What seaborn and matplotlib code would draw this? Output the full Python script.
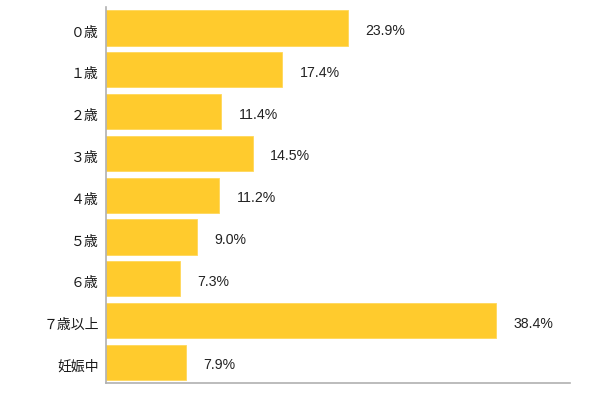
import matplotlib
matplotlib.use("Agg")
import matplotlib.pyplot as plt
import matplotlib.transforms as mtransforms
import seaborn as sns
import pandas as pd

categories = ["０歳", "１歳", "２歳", "３歳", "４歳", "５歳", "６歳", "７歳以上", "妊娠中"]
values = [23.9, 17.4, 11.4, 14.5, 11.2, 9.0, 7.3, 38.4, 7.9]
value_labels = ["23.9%", "17.4%", "11.4%", "14.5%", "11.2%", "9.0%", "7.3%", "38.4%", "7.9%"]

sns.set_theme(style="white")
plt.rcParams['font.family'] = ['Noto Sans CJK JP', 'DejaVu Sans']

df = pd.DataFrame({"cat": categories, "val": values})

fig = plt.figure(figsize=(6, 3.95), dpi=100)
ax = fig.add_axes([0.176, 0.0296, 0.774, 0.9524])
sns.barplot(data=df, x="val", y="cat", orient="h", color="#FFCB2D",
            saturation=1, width=0.845, edgecolor="#FFD75A", linewidth=0.6, ax=ax)

ax.set_xlim(0, 45.7)
ax.set_ylim(8.5, -0.5)
ax.set_xlabel("")
ax.set_ylabel("")
ax.set_xticks([])
ax.tick_params(axis="y", length=0, pad=5, labelsize=10, labelcolor="#1a1a1a")
shift = mtransforms.ScaledTranslation(0, -3 / 100, fig.dpi_scale_trans)
for lbl in ax.get_yticklabels():
    lbl.set_transform(lbl.get_transform() + shift)
for s in ["top", "right"]:
    ax.spines[s].set_visible(False)
for s in ["left", "bottom"]:
    ax.spines[s].set_color("#b0b0b0")
    ax.spines[s].set_linewidth(1.2)

for i, (v, lab) in enumerate(zip(values, value_labels)):
    ax.text(v + 1.7, i, lab, va="center", ha="left", fontsize=10.2,
            color="#222222", family=["Liberation Sans"],
            transform=ax.transData + shift)

fig.savefig("out.png", dpi=100)
